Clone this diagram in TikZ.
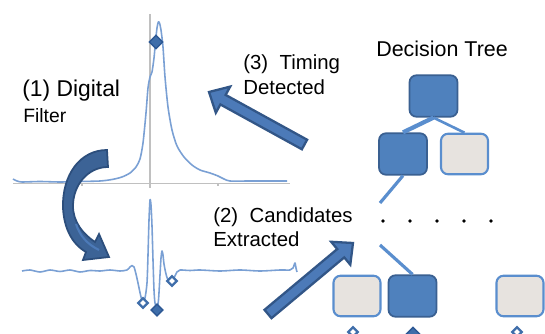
\documentclass[tikz,border=0pt]{standalone}
\usepackage{fontspec}
\setmainfont{Liberation Sans}
\usetikzlibrary{calc,shapes.geometric}
\definecolor{plotblue}{RGB}{122,160,212}
\definecolor{axisgrey}{RGB}{192,192,192}
\definecolor{mkfill}{RGB}{63,110,170}
\definecolor{mkdraw}{RGB}{45,88,148}
\definecolor{boxdark}{RGB}{79,129,189}
\definecolor{boxdarkline}{RGB}{58,96,145}
\definecolor{boxlight}{RGB}{231,227,223}
\definecolor{boxlightline}{RGB}{90,142,206}
\definecolor{arrowfill}{RGB}{76,122,184}
\definecolor{arrowdark}{RGB}{50,86,135}
\definecolor{curvefill}{RGB}{60,99,150}
\definecolor{curvedark}{RGB}{44,78,124}
\newcommand\blockarrow[3]{%
  \coordinate (#3b) at ($(#2)!9.1pt!(#1)$);
  \filldraw[blockarr] ($(#1)!3.1pt!90:(#2)$) -- ($(#3b)!3.1pt!90:(#2)$)
    -- ($(#3b)!8.5pt!90:(#2)$) -- (#2) -- ($(#3b)!8.5pt!-90:(#2)$)
    -- ($(#3b)!3.1pt!-90:(#2)$) -- ($(#1)!3.1pt!-90:(#2)$) -- cycle;
}
\begin{document}
\begin{tikzpicture}[x=0.02cm,y=-0.02cm,
  lbl/.style={inner sep=0pt, anchor=base west, font=\fontsize{11.6}{14}\selectfont},
  plotline/.style={draw=plotblue, line width=0.9pt, line join=round},
  axisline/.style={draw=axisgrey, line width=0.75pt},
  mkfull/.style={diamond, draw=mkdraw, fill=mkfill, line width=0.8pt, minimum size=0.28cm, inner sep=0pt},
  mkhollow/.style={diamond, draw=mkfill, fill=white, line width=1.3pt, minimum size=0.21cm, inner sep=0pt},
  darkbox/.style={draw=boxdarkline, fill=boxdark, line width=1pt, rounded corners=4pt, minimum width=0.96cm, minimum height=0.83cm, inner sep=0pt},
  lightbox/.style={draw=boxlightline, fill=boxlight, line width=1.2pt, rounded corners=4pt, minimum width=0.94cm, minimum height=0.81cm, inner sep=0pt},
  treeline/.style={draw=boxlightline, line width=1.8pt},
  dotnode/.style={circle, fill=black, minimum size=0.075cm, inner sep=0pt},
  blockarr/.style={fill=arrowfill, draw=arrowdark, line width=1.3pt, line join=miter},
]
\clip (0,0) rectangle (545,334);
\fill[white] (0,0) rectangle (545,334);

% ---- top plot ----
\draw[axisline] (13,183.5) -- (290,183.5);
\draw[axisline] (150,14) -- (150,188);
\foreach \t in {82,218} \draw[axisline] (\t,183.5) -- (\t,186.5);
\draw[plotline] plot[smooth, tension=0.45] coordinates {
 (13,179) (17,181) (22,182) (40,181.5) (60,182) (80,181.5) (100,181) (112,179.5)
 (122,177) (130,173) (136,167) (140,159) (143,143) (146,113) (148,88) (150,77)
 (152,72) (154,58) (155.5,42) (157,28) (158.3,22) (159.5,23) (161,30) (163,47)
 (165,77) (168,107) (172,130) (177,146) (184,157) (192,165) (200,170) (210,173)
 (218,176) (224,179) (230,181) (250,181) (270,181) (287,181)};
\node[mkfull] (pk) at (156,42) {};

% ---- bottom plot ----
\draw[plotline] plot[smooth, tension=0.45] coordinates {
 (22,271) (30,270) (40,272) (50,270) (60,271.5) (70,270) (80,272) (90,270.5)
 (100,271) (110,270) (120,271) (127,270) (130,267) (132,265.5) (134,267)
 (136,274) (138,283) (141,297) (143,302) (145,298) (147,283) (148,255)
 (149,220) (150,200) (151,205) (152,226) (153,260) (154,290) (155,303)
 (157,308) (158.5,300) (160,275) (161,258) (162,251) (163,255) (164,264)
 (166,274) (168,280) (171,282) (174,278) (177,272) (180,270) (190,270.5)
 (200,270) (220,271) (240,270) (260,271) (280,270) (290,270) (293,268)
 (295,263) (296,268) (297,272)};
\node[mkhollow] (c1) at (143,303) {};
\node[mkfull, minimum size=0.25cm] (c2) at (157,310) {};
\node[mkhollow] (c3) at (172,281) {};

% ---- curved arrow (1) ----
\filldraw[fill=curvefill, draw=curvedark, line width=1pt, line join=miter]
 (107,150) .. controls (80,150) and (62,175) .. (63,208)
 .. controls (64,228) and (72,244) .. (86,252)
 -- (83,260) -- (109,257) -- (99,234) -- (95,242)
 .. controls (83,234) and (73,222) .. (73,206)
 .. controls (73,185) and (88,167) .. (108,167) -- cycle;
\draw[arrowfill, line width=1.2pt] (76,224) .. controls (80,236) and (87,244) .. (99,250);

% ---- block arrows ----
\coordinate (a3t) at (304.5,144.5);
\coordinate (a3h) at (209,92);
\blockarrow{a3t}{a3h}{a3}
\coordinate (a2t) at (268,314);
\coordinate (a2h) at (353,243);
\blockarrow{a2t}{a2h}{a2}

% ---- labels ----
\node[lbl, font=\fontsize{13}{15}\selectfont] (t1) at (22,97) {(1) Digital};
\node[lbl, font=\fontsize{11}{13}\selectfont] (t1b) at (23,123) {Filter};
\node[lbl] (t3) at (243,70) {(3)\ \ Timing};
\node[lbl] (t3b) at (243,95) {Detected};
\node[lbl] (t2) at (213,223) {(2)\ \ Candidates};
\node[lbl] (t2b) at (213,247) {Extracted};
\node[lbl, font=\fontsize{12.2}{14}\selectfont] (dt) at (376,57) {Decision Tree};

% ---- decision tree ----
\node[darkbox] (root) at (433.5,96) {};
\node[darkbox] (l2a) at (403,154) {};
\node[lightbox] (l2b) at (464.5,154) {};
\draw[treeline, line width=2.4pt] (root.south) -- (l2a.north);
\draw[treeline, line width=1.5pt] (root.south) -- (l2b.north);
\coordinate (cut1) at (380,203);
\draw[treeline] (l2a.south) -- (cut1);
\foreach \i/\x in {1/383,2/410,3/437,4/464,5/491}
  \node[dotnode] (d\i) at (\x,221) {};
\coordinate (cut2) at (380,245);
\node[lightbox] (b1) at (357,296) {};
\node[darkbox] (b2) at (412.5,296) {};
\node[lightbox] (b3) at (520,296) {};
\draw[treeline] (cut2) -- (b2.north);
\node[mkhollow] (e1) at (353,332) {};
\node[mkfull] (e2) at (413,334) {};
\node[mkhollow] (e3) at (517,332) {};
\end{tikzpicture}
\end{document}
